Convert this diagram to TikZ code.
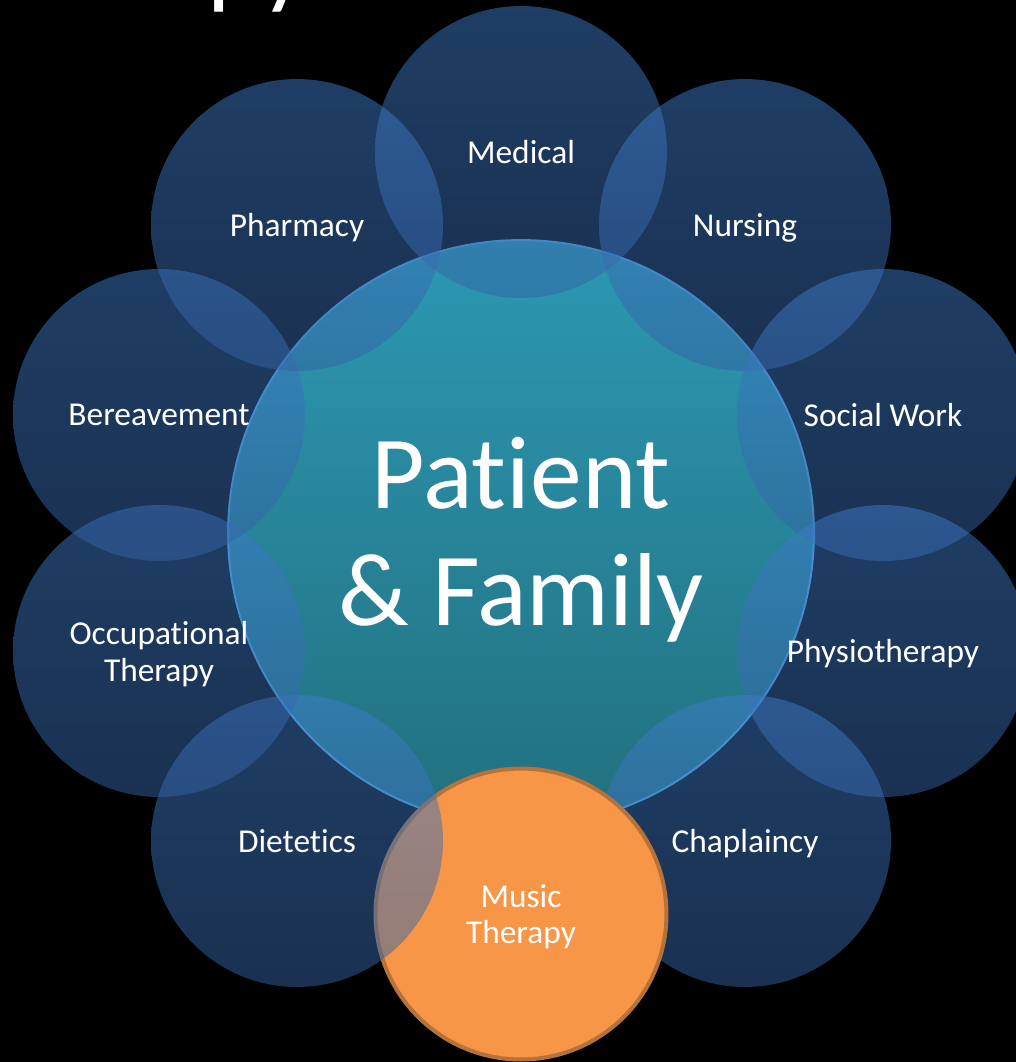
\documentclass[tikz,border=0pt]{standalone}
\usepackage{fontspec}
\setmainfont{Carlito}[Ligatures = NoCommon]
\usepackage{tikz}

\definecolor{unitblue}{HTML}{3E7CCA}
\definecolor{unitbluedark}{HTML}{3462A4}
\definecolor{hubtop}{HTML}{2C98B3}
\definecolor{hubbottom}{HTML}{22707F}
\definecolor{hubrim}{HTML}{4FA8DE}
\definecolor{musicfill}{HTML}{F79646}
\definecolor{musicrim}{HTML}{B5733A}

\begin{document}
\begin{tikzpicture}[x = 0.02cm, y = -0.02cm,
    unit/.style = {circle, minimum size = 5.84cm, inner sep = 0pt, text depth = 0pt, top color = unitblue, bottom color = unitbluedark, fill opacity = 0.5, text opacity = 1, text = white, align = center, font = \fontsize{19}{21}\selectfont},
    hub/.style = {circle, minimum size = 11.72cm, inner sep = 0pt, top color = hubtop, bottom color = hubbottom, draw = hubrim, line width = 1.1pt},
    music/.style = {circle, minimum size = 5.82cm, inner sep = 0pt, text depth = 0pt, fill = musicfill, draw = musicrim, line width = 2.3pt, text = white, align = center, font = \fontsize{19}{21}\selectfont}]
          \useasboundingbox (0, 0) rectangle (1016, 1062);
          \fill[black] (0, 0) rectangle (1016, 1062);
          \node[anchor = base west, inner sep = 0pt, text = white, font = \fontsize{59}{66.6}\selectfont] (title) at (207, -5) {py};
          \node[hub] (hub) at (521, 533) {};
          \node[text = white, align = center, inner sep = 0pt, font = \fontsize{59}{66.6}\selectfont] (hubtext) at (521, 540) {Patient\\\& Family};
          \node[unit] (medical) at (521, 152) {Medical};
          \node[unit] (nursing) at (745, 225) {Nursing};
          \node[unit] (social) at (883, 415) {Social Work};
          \node[unit] (physio) at (883, 651) {Physiotherapy};
          \node[unit] (chaplaincy) at (745, 841) {Chaplaincy};
          \node[music] (music) at (521, 914) {Music\\Therapy};
          \node[unit] (dietetics) at (297, 841) {Dietetics};
          \node[unit] (occupational) at (159, 651) {Occupational\\Therapy};
          \node[unit] (bereavement) at (159, 415) {Bereavement};
          \node[unit] (pharmacy) at (297, 225) {Pharmacy};
      \end{tikzpicture}
\end{document}
